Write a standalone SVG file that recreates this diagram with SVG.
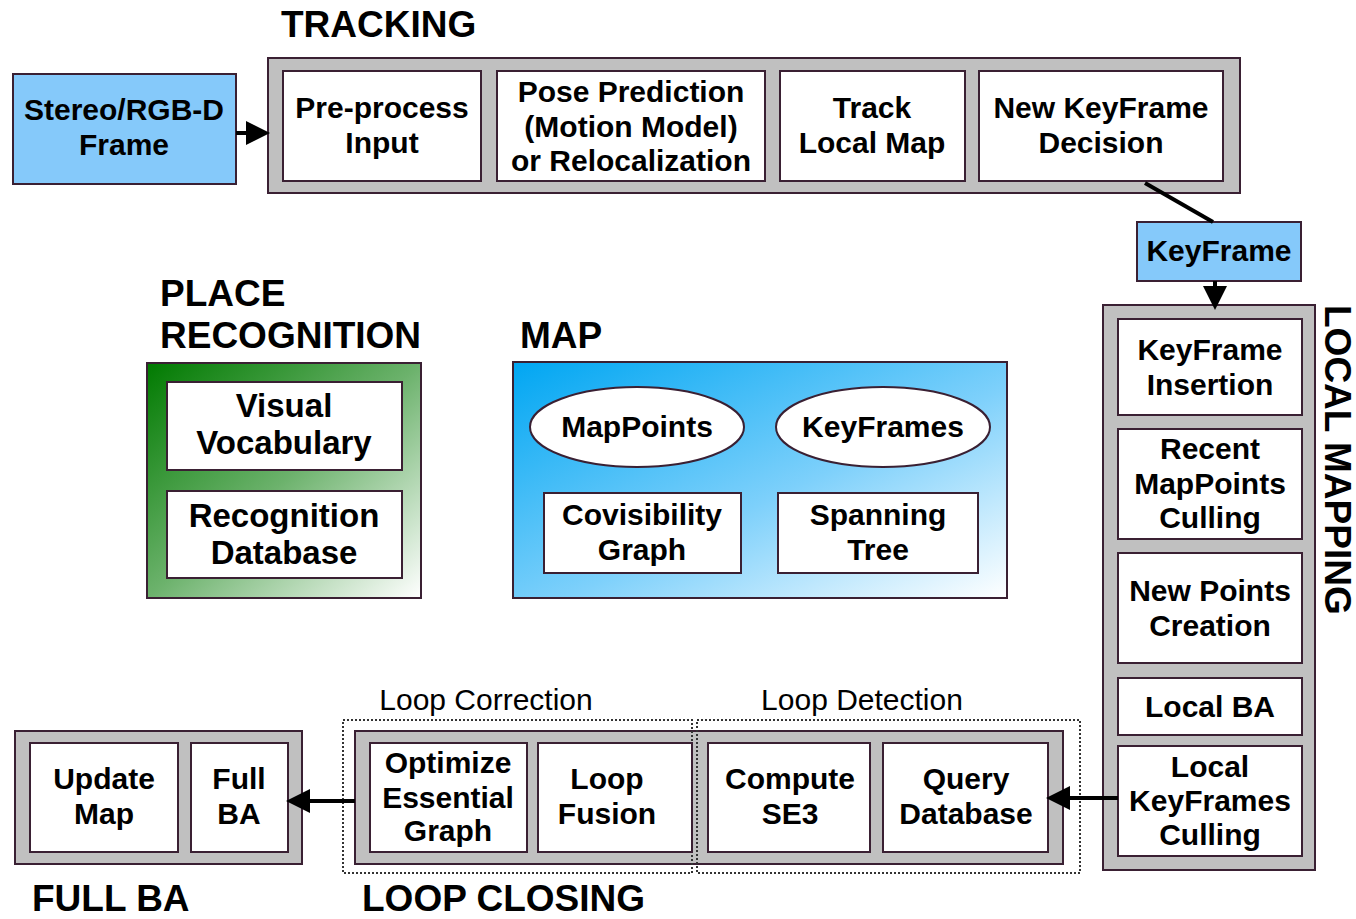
<svg xmlns="http://www.w3.org/2000/svg" width="1356" height="919" viewBox="0 0 1356 919">
<defs>
<linearGradient id="gMap" x1="0" y1="0" x2="1" y2="1">
<stop offset="0" stop-color="#00a6f2"/>
<stop offset="0.55" stop-color="#7dd0fb"/>
<stop offset="1" stop-color="#ffffff"/>
</linearGradient>
<linearGradient id="gPlace" x1="0" y1="0" x2="1" y2="1">
<stop offset="0" stop-color="#007a00"/>
<stop offset="0.5" stop-color="#6cb26c"/>
<stop offset="1" stop-color="#ffffff"/>
</linearGradient>
<marker id="ah" markerWidth="6" markerHeight="6" refX="5" refY="3" orient="auto" markerUnits="strokeWidth">
<path d="M0,0 L6,3 L0,6 z" fill="#000"/>
</marker>
<style>
text{font-family:"Liberation Sans",Arial,sans-serif;fill:#000;}
.t{font-size:30px;font-weight:bold;text-anchor:middle;}
.tl{font-size:33px;font-weight:bold;text-anchor:middle;}
.h{font-size:37px;font-weight:bold;}
.s{font-size:30px;text-anchor:middle;}
.box{fill:#fff;stroke:#3a2033;stroke-width:2;}
.grp{fill:#c0c0c0;stroke:#3a2033;stroke-width:2;}
.blue{fill:#85c9fa;stroke:#3a2033;stroke-width:2;}
.dash{fill:none;stroke:#333;stroke-width:2;stroke-dasharray:2,2;}
.con{stroke:#000;stroke-width:4;fill:none;}
</style>
</defs>
<rect width="1356" height="919" fill="#fff"/>

<!-- Headers -->
<text class="h" x="281" y="37">TRACKING</text>
<text class="h" x="160" y="306">PLACE</text>
<text class="h" x="160" y="348">RECOGNITION</text>
<text class="h" x="520" y="348">MAP</text>
<text class="h" x="32" y="911">FULL BA</text>
<text class="h" x="362" y="911">LOOP CLOSING</text>
<text class="h" transform="translate(1325,305) rotate(90)">LOCAL MAPPING</text>
<text class="s" x="486" y="710">Loop Correction</text>
<text class="s" x="862" y="710">Loop Detection</text>

<!-- Input -->
<g id="stereo">
<rect class="blue" x="13" y="74" width="223" height="110"/>
<text class="t" x="124" y="120">Stereo/RGB-D</text>
<text class="t" x="124" y="155">Frame</text>
</g>

<!-- Tracking -->
<g id="tracking">
<rect class="grp" x="268" y="58" width="972" height="135"/>
<g id="preprocess">
<rect class="box" x="283" y="71" width="198" height="110"/>
<text class="t" x="382" y="118">Pre-process</text>
<text class="t" x="382" y="153">Input</text>
</g>
<g id="pose">
<rect class="box" x="497" y="71" width="268" height="110"/>
<text class="t" x="631" y="102">Pose Prediction</text>
<text class="t" x="631" y="137">(Motion Model)</text>
<text class="t" x="631" y="171">or Relocalization</text>
</g>
<g id="tracklocal">
<rect class="box" x="780" y="71" width="185" height="110"/>
<text class="t" x="872" y="118">Track</text>
<text class="t" x="872" y="153">Local Map</text>
</g>
<g id="newkf">
<rect class="box" x="979" y="71" width="244" height="110"/>
<text class="t" x="1101" y="118">New KeyFrame</text>
<text class="t" x="1101" y="153">Decision</text>
</g>
</g>

<g id="keyframe">
<rect class="blue" x="1137" y="222" width="164" height="59"/>
<text class="t" x="1219" y="261">KeyFrame</text>
</g>

<!-- Local Mapping -->
<g id="localmapping">
<rect class="grp" x="1103" y="305" width="212" height="565"/>
<g id="kfinsert">
<rect class="box" x="1118" y="319" width="184" height="96"/>
<text class="t" x="1210" y="360">KeyFrame</text>
<text class="t" x="1210" y="395">Insertion</text>
</g>
<g id="recent">
<rect class="box" x="1118" y="429" width="184" height="110"/>
<text class="t" x="1210" y="459">Recent</text>
<text class="t" x="1210" y="494">MapPoints</text>
<text class="t" x="1210" y="528">Culling</text>
</g>
<g id="newpoints">
<rect class="box" x="1118" y="553" width="184" height="110"/>
<text class="t" x="1210" y="601">New Points</text>
<text class="t" x="1210" y="636">Creation</text>
</g>
<g id="localba">
<rect class="box" x="1118" y="678" width="184" height="57"/>
<text class="t" x="1210" y="717">Local BA</text>
</g>
<g id="kfculling">
<rect class="box" x="1118" y="746" width="184" height="110"/>
<text class="t" x="1210" y="777">Local</text>
<text class="t" x="1210" y="811">KeyFrames</text>
<text class="t" x="1210" y="845">Culling</text>
</g>
</g>

<!-- Place Recognition -->
<g id="placerec">
<rect x="147" y="363" width="274" height="235" fill="url(#gPlace)" stroke="#3a2033" stroke-width="2"/>
<g id="vocab">
<rect class="box" x="167" y="382" width="235" height="88"/>
<text class="tl" x="284" y="417">Visual</text>
<text class="tl" x="284" y="454">Vocabulary</text>
</g>
<g id="recdb">
<rect class="box" x="167" y="491" width="235" height="87"/>
<text class="tl" x="284" y="527">Recognition</text>
<text class="tl" x="284" y="564">Database</text>
</g>
</g>

<!-- Map -->
<g id="map">
<rect x="513" y="362" width="494" height="236" fill="url(#gMap)" stroke="#3a2033" stroke-width="2"/>
<g id="mappoints">
<ellipse class="box" cx="637" cy="427" rx="107" ry="40"/>
<text class="t" x="637" y="437">MapPoints</text>
</g>
<g id="keyframes">
<ellipse class="box" cx="883" cy="427" rx="107" ry="40"/>
<text class="t" x="883" y="437">KeyFrames</text>
</g>
<g id="covis">
<rect class="box" x="544" y="493" width="197" height="80"/>
<text class="t" x="642" y="525">Covisibility</text>
<text class="t" x="642" y="560">Graph</text>
</g>
<g id="spanning">
<rect class="box" x="778" y="493" width="200" height="80"/>
<text class="t" x="878" y="525">Spanning</text>
<text class="t" x="878" y="560">Tree</text>
</g>
</g>

<!-- Full BA -->
<g id="fullba">
<rect class="grp" x="15" y="731" width="287" height="133"/>
<g id="updatemap">
<rect class="box" x="30" y="743" width="148" height="109"/>
<text class="t" x="104" y="789">Update</text>
<text class="t" x="104" y="824">Map</text>
</g>
<g id="fullbabox">
<rect class="box" x="191" y="743" width="97" height="109"/>
<text class="t" x="239" y="789">Full</text>
<text class="t" x="239" y="824">BA</text>
</g>
</g>

<!-- Loop Closing -->
<g id="loopclosing">
<rect class="grp" x="355" y="731" width="708" height="133"/>
<rect class="dash" x="343" y="720" width="349" height="153"/>
<rect class="dash" x="697" y="720" width="383" height="153"/>
<g id="optimize">
<rect class="box" x="370" y="743" width="157" height="109"/>
<text class="t" x="448" y="773">Optimize</text>
<text class="t" x="448" y="808">Essential</text>
<text class="t" x="448" y="841">Graph</text>
</g>
<g id="fusion">
<rect class="box" x="538" y="743" width="154" height="109"/>
<text class="t" x="607" y="789">Loop</text>
<text class="t" x="607" y="824">Fusion</text>
</g>
<g id="se3">
<rect class="box" x="708" y="743" width="162" height="109"/>
<text class="t" x="790" y="789">Compute</text>
<text class="t" x="790" y="824">SE3</text>
</g>
<g id="query">
<rect class="box" x="883" y="743" width="165" height="109"/>
<text class="t" x="966" y="789">Query</text>
<text class="t" x="966" y="824">Database</text>
</g>
</g>

<!-- Connectors -->
<g id="connectors">
<line class="con" x1="236" y1="133" x2="266" y2="133" marker-end="url(#ah)"/>
<line class="con" x1="1145" y1="183" x2="1213" y2="222"/>
<line class="con" x1="1215" y1="281" x2="1215" y2="306" marker-end="url(#ah)"/>
<line class="con" x1="1118" y1="798" x2="1050" y2="798" marker-end="url(#ah)"/>
<line class="con" x1="355" y1="801" x2="290" y2="801" marker-end="url(#ah)"/>
</g>
</svg>
